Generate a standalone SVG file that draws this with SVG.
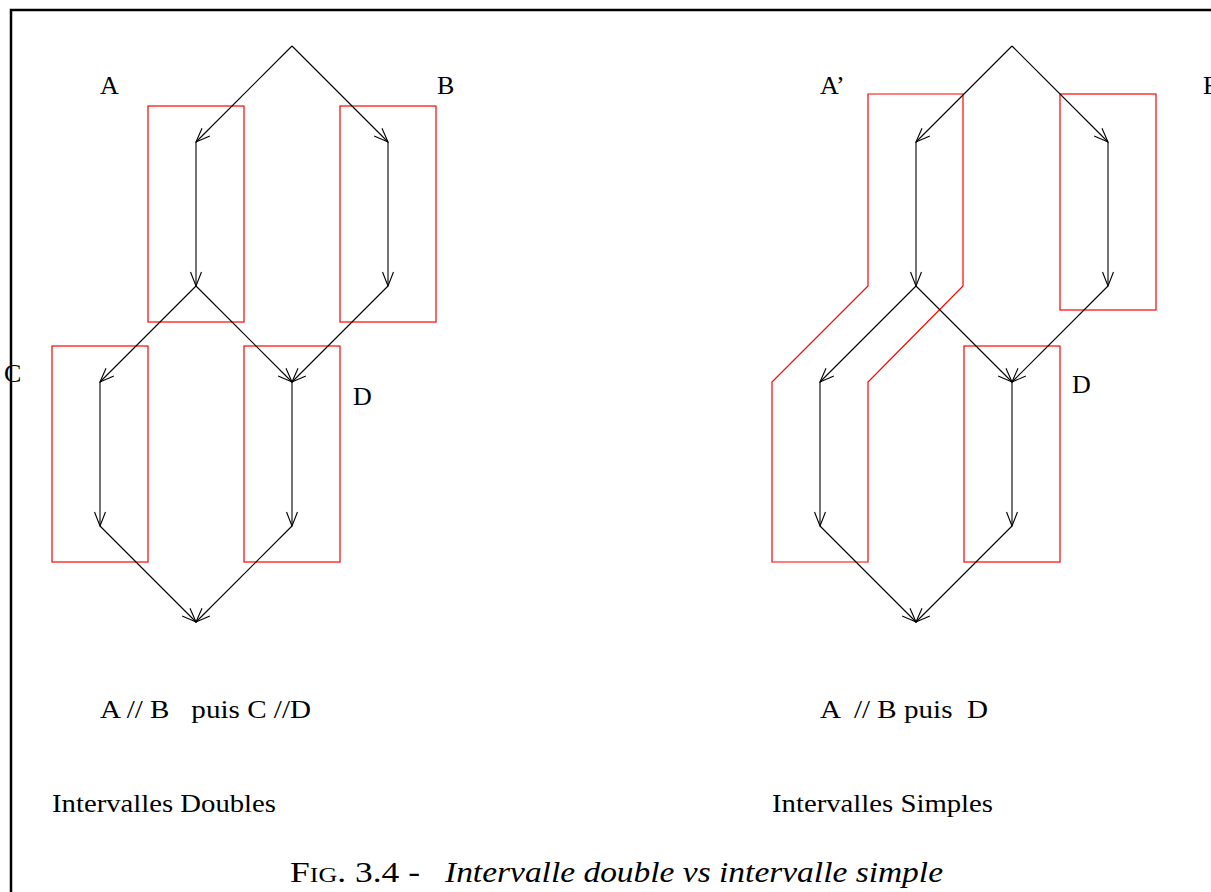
<svg xmlns="http://www.w3.org/2000/svg" width="1211" height="892" viewBox="0 0 1211 892">
<style>
.e{fill:none;stroke:#000;stroke-width:1.1;marker-end:url(#ah)}
.r{fill:none;stroke:#ff0000;stroke-width:1.2}
.t{font-family:"Liberation Serif","Times New Roman",serif;font-size:26px;fill:#000;white-space:pre}
.c{font-family:"Liberation Serif","Times New Roman",serif;fill:#000;white-space:pre}
</style>
<defs>
<marker id="ah" markerUnits="userSpaceOnUse" markerWidth="30" markerHeight="30" refX="0" refY="0" viewBox="-15 -15 30 30" orient="auto">
<path d="M-14,-5.5 L0,0 L-14,5.5" fill="none" stroke="#000" stroke-width="1.1"/>
</marker>
</defs>
<rect width="1211" height="892" fill="#fff"/>
<g id="frame">
<path d="M1211,10 H11 V892" fill="none" stroke="#000" stroke-width="2.5"/>
</g>
<g id="left-boxes">
<rect id="boxA" class="r" x="148" y="106" width="96" height="216"/>
<rect id="boxB" class="r" x="340" y="106" width="96" height="216"/>
<rect id="boxC" class="r" x="52" y="346" width="96" height="216"/>
<rect id="boxD" class="r" x="244" y="346" width="96" height="216"/>
</g>
<g id="right-boxes">
<path id="boxA2" class="r" d="M868,94 H963 V286 L868,382 V562 H772 V382 L868,286 Z"/>
<rect id="boxB2" class="r" x="1060" y="94" width="96" height="216"/>
<rect id="boxD2" class="r" x="964" y="346" width="96" height="216"/>
</g>
<g id="connectors">
<path class="e" d="M292,46 L196,142"/>
<path class="e" d="M292,46 L388,142"/>
<path class="e" d="M196,142 L196,286"/>
<path class="e" d="M388,142 L388,286"/>
<path class="e" d="M196,286 L100,382"/>
<path class="e" d="M196,286 L292,382"/>
<path class="e" d="M388,286 L292,382"/>
<path class="e" d="M100,382 L100,526"/>
<path class="e" d="M292,382 L292,526"/>
<path class="e" d="M100,526 L196,622"/>
<path class="e" d="M292,526 L196,622"/>
<path class="e" d="M1012,46 L916,142"/>
<path class="e" d="M1012,46 L1108,142"/>
<path class="e" d="M916,142 L916,286"/>
<path class="e" d="M1108,142 L1108,286"/>
<path class="e" d="M916,286 L820,382"/>
<path class="e" d="M916,286 L1012,382"/>
<path class="e" d="M1108,286 L1012,382"/>
<path class="e" d="M820,382 L820,526"/>
<path class="e" d="M1012,382 L1012,526"/>
<path class="e" d="M820,526 L916,622"/>
<path class="e" d="M1012,526 L916,622"/>
</g>
<g id="labels">
<text class="t" x="100" y="94">A</text>
<text class="t" x="437" y="94">B</text>
<text class="t" x="4" y="382">C</text>
<text class="t" x="353" y="405">D</text>
<text class="t" x="820" y="94">A’</text>
<text class="t" x="1203" y="94">B’</text>
<text class="t" x="1072" y="393">D</text>
<text class="t" x="100" y="718" textLength="211" lengthAdjust="spacingAndGlyphs">A // B   puis C //D</text>
<text class="t" x="820" y="718" textLength="168" lengthAdjust="spacingAndGlyphs">A  // B puis  D</text>
<text class="t" x="52" y="812" textLength="224" lengthAdjust="spacingAndGlyphs">Intervalles Doubles</text>
<text class="t" x="772" y="812" textLength="221" lengthAdjust="spacingAndGlyphs">Intervalles Simples</text>
</g>
<g id="caption">
<text class="c" x="290" y="882" font-size="30" textLength="130" lengthAdjust="spacingAndGlyphs">F<tspan font-size="22">IG</tspan>. 3.4 -</text>
<text class="c" x="445" y="882" font-size="29" font-style="italic" textLength="498" lengthAdjust="spacingAndGlyphs">Intervalle double vs intervalle simple</text>
</g>
</svg>
